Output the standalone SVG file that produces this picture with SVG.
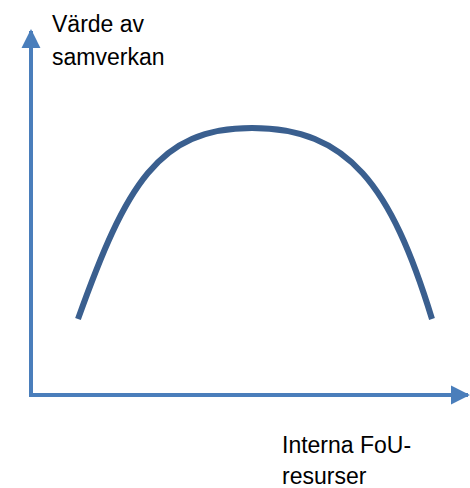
<svg xmlns="http://www.w3.org/2000/svg" width="470" height="488" viewBox="0 0 470 488">
<style>
.axis{fill:none;stroke:#4a7ebb;stroke-width:4}
.curve{fill:none;stroke:#3a5f8f;stroke-width:6}
.lbl{font-family:"Liberation Sans",Arial,sans-serif;font-size:23px;fill:#000}
</style>
<defs>
<marker id="ah" viewBox="0 0 10 10" refX="9" refY="5" markerWidth="4.8" markerHeight="4.8" orient="auto" markerUnits="strokeWidth">
<path d="M0,0 L10,5 L0,10 z" fill="#4a7ebb"/>
</marker>
</defs>
<g id="connectors">
<path class="axis" d="M31,397 L31,31" marker-end="url(#ah)"/>
<path class="axis" d="M31,395 L468,395" marker-end="url(#ah)"/>
</g>
<g id="curve">
<path class="curve" d="M78,319 C126,185 158,128 252,128 C348,128 391,185 432,319"/>
</g>
<g id="ylabel">
<text class="lbl" x="52" y="32">Värde av</text>
<text class="lbl" x="52" y="65">samverkan</text>
</g>
<g id="xlabel">
<text class="lbl" x="282" y="453">Interna FoU-</text>
<text class="lbl" x="282" y="484">resurser</text>
</g>
</svg>
